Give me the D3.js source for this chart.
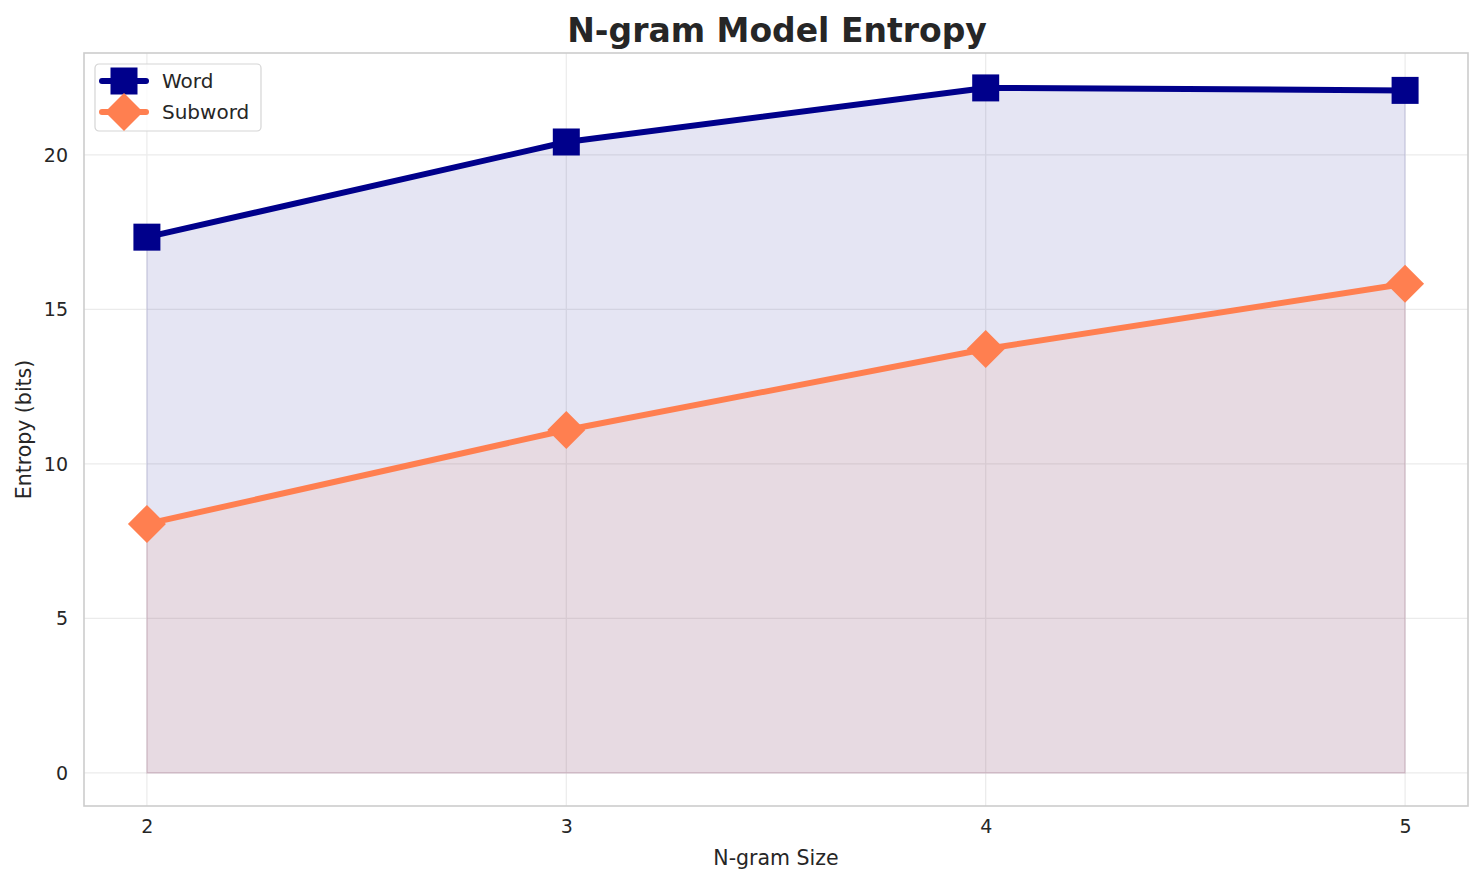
<!DOCTYPE html>
<html lang="en">
<head>
  <meta charset="UTF-8">
  <title>N-gram Model Entropy</title>
  <script src="https://d3js.org/d3.v7.min.js"></script>
  <style>
    body {
      margin: 0;
      background: #fff;
      font-family: "DejaVu Sans", sans-serif;
    }
    .grid line { stroke: #ebebeb; stroke-width: 1.2; }
    .tick text { fill: #262626; font-size: 19px; font-family: "DejaVu Sans", sans-serif; }
  </style>
</head>
<body>
  <div id="chart"></div>

  <script>
    const ngramSizes = [2, 3, 4, 5];
    const wordEntropy = [17.34, 20.42, 22.17, 22.09];
    const subwordEntropy = [8.06, 11.1, 13.72, 15.83];
    const yTicks = [0, 5, 10, 15, 20];

    const w = 1484;
    const h = 885;
    const plotLeft = 84, plotRight = 1468, plotTop = 53, plotBottom = 806;

    const svg = d3.select("#chart")
                  .append("svg")
                  .attr("width", w)
                  .attr("height", h);

    const xScale = d3.scaleLinear()
                     .domain([1.85, 5.15])
                     .range([plotLeft, plotRight]);

    const yScale = d3.scaleLinear()
                     .domain([-1.07, 23.3])
                     .range([plotBottom, plotTop]);

    // grid
    svg.append("g")
       .attr("class", "grid")
       .selectAll("line")
       .data(ngramSizes)
       .enter()
       .append("line")
       .attr("x1", d => xScale(d)).attr("x2", d => xScale(d))
       .attr("y1", plotTop).attr("y2", plotBottom);

    svg.append("g")
       .attr("class", "grid")
       .selectAll("line")
       .data(yTicks)
       .enter()
       .append("line")
       .attr("x1", plotLeft).attr("x2", plotRight)
       .attr("y1", d => yScale(d)).attr("y2", d => yScale(d));

    const series = [
      { name: "Word", values: wordEntropy, color: "#00008b", marker: "square" },
      { name: "Subword", values: subwordEntropy, color: "#ff7f50", marker: "diamond" }
    ];

    const area = d3.area()
                   .x((d, i) => xScale(ngramSizes[i]))
                   .y0(yScale(0))
                   .y1(d => yScale(d));

    const line = d3.line()
                   .x((d, i) => xScale(ngramSizes[i]))
                   .y(d => yScale(d));

    series.forEach(s => {
      svg.append("path")
         .datum(s.values)
         .attr("d", area)
         .attr("fill", s.color)
         .attr("fill-opacity", 0.1)
         .attr("stroke", s.color)
         .attr("stroke-opacity", 0.1)
         .attr("stroke-width", 1.4);
    });

    const squareSym = d3.symbol().type(d3.symbolSquare).size(27 * 27);
    const diamondPath = r => `M0,${-r}L${r},0L0,${r}L${-r},0Z`;

    series.forEach(s => {
      svg.append("path")
         .datum(s.values)
         .attr("d", line)
         .attr("fill", "none")
         .attr("stroke", s.color)
         .attr("stroke-width", 6)
         .attr("stroke-linejoin", "round")
         .attr("stroke-linecap", "round");

      svg.selectAll(".m-" + s.name)
         .data(s.values)
         .enter()
         .append("path")
         .attr("class", "m-" + s.name)
         .attr("transform", (d, i) => `translate(${xScale(ngramSizes[i])},${yScale(d)})`)
         .attr("d", s.marker === "square" ? squareSym() : diamondPath(19))
         .attr("fill", s.color);
    });

    // axes
    const xAxis = d3.axisBottom(xScale).tickValues(ngramSizes).tickSize(0).tickPadding(14).tickFormat(d3.format("d"));
    const yAxis = d3.axisLeft(yScale).tickValues(yTicks).tickSize(0).tickPadding(16);

    svg.append("g")
       .attr("transform", `translate(0, ${plotBottom})`)
       .call(xAxis)
       .call(g => g.select(".domain").remove());

    svg.append("g")
       .attr("transform", `translate(${plotLeft}, 0)`)
       .call(yAxis)
       .call(g => g.select(".domain").remove());

    // frame
    svg.append("rect")
       .attr("x", plotLeft).attr("y", plotTop)
       .attr("width", plotRight - plotLeft).attr("height", plotBottom - plotTop)
       .attr("fill", "none")
       .attr("stroke", "#cccccc")
       .attr("stroke-width", 1.6);

    // titles
    svg.append("text")
       .attr("x", 777).attr("y", 41.5)
       .attr("text-anchor", "middle")
       .attr("font-size", 33).attr("font-weight", "bold")
       .attr("fill", "#262626")
       .text("N-gram Model Entropy");

    svg.append("text")
       .attr("x", 776).attr("y", 865)
       .attr("text-anchor", "middle")
       .attr("font-size", 20.5)
       .attr("fill", "#262626")
       .text("N-gram Size");

    svg.append("text")
       .attr("transform", `translate(31, ${(plotTop + plotBottom) / 2}) rotate(-90)`)
       .attr("text-anchor", "middle")
       .attr("font-size", 20.5)
       .attr("fill", "#262626")
       .text("Entropy (bits)");

    // legend
    const legend = svg.append("g").attr("transform", "translate(95, 64)");
    legend.append("rect")
          .attr("width", 166).attr("height", 67)
          .attr("rx", 4)
          .attr("fill", "#fff").attr("fill-opacity", 0.8)
          .attr("stroke", "#d5d5d5").attr("stroke-width", 1.2);

    series.forEach((s, i) => {
      const g = legend.append("g").attr("transform", `translate(0, ${17 + i * 31})`);
      g.append("line")
       .attr("x1", 7).attr("x2", 51)
       .attr("stroke", s.color).attr("stroke-width", 6)
       .attr("stroke-linecap", "round");
      g.append("path")
       .attr("transform", "translate(29,0)")
       .attr("d", s.marker === "square" ? squareSym() : diamondPath(19))
       .attr("fill", s.color);
      g.append("text")
       .attr("x", 67).attr("y", 7)
       .attr("font-size", 20)
       .attr("fill", "#262626")
       .text(s.name);
    });
  </script>
</body>
</html>
